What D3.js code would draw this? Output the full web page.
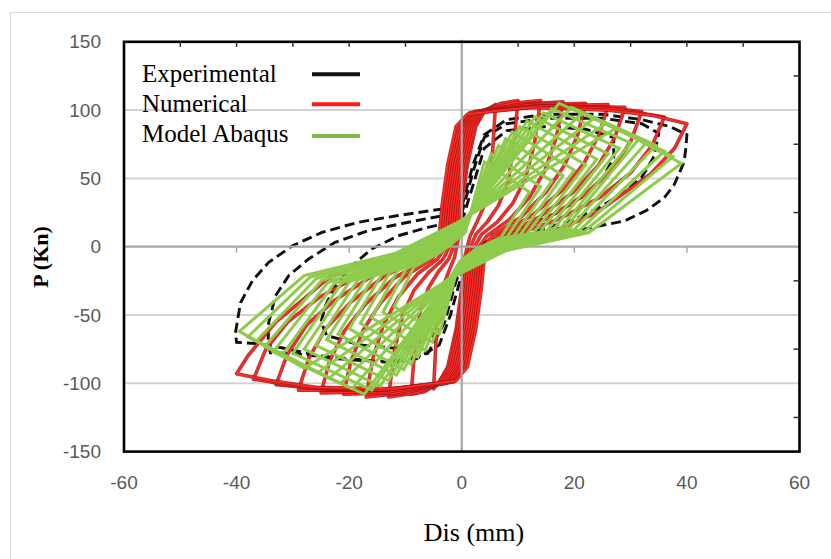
<!DOCTYPE html>
<html>
<head>
<meta charset="utf-8">
<script src="https://cdn.jsdelivr.net/npm/d3@7"></script>
<style>
  body { margin: 0; background: #fff; }
  svg { display: block; }
</style>
</head>
<body>
<div id="chart"></div>
<script>
// axis ticks
const xTicks = [-60, -40, -20, 0, 20, 40, 60];
const yTicks = [-150, -100, -50, 0, 50, 100, 150];
const gridValues = [100, 50, -50, -100];
const topMinorTicks = [-50, -40, -30, -20, -10, 10, 20, 30, 40, 50];
const rightMinorTicks = [125, 75, 25, -25, -75, -125];
const zeroLineTicks = [-40, -20, 20, 40];

const legendLabels = ['Experimental', 'Numerical', 'Model Abaqus'];

// Experimental (dashed black) loops
const experimental = [
  [[0, 29], [2, 60], [4, 82], [8, 93], [15, 97], [25, 97], [32, 93], [37, 88], [40, 82], [39.8, 72], [39.5, 62],
    [37.7, 45], [36, 36], [32.8, 26.5], [29, 19], [23, 14], [15, 8], [8, 2], [3, -5], [0, -20], [-2, -50],
    [-4, -72], [-8, -82], [-15, -84], [-25, -80], [-32, -74], [-36, -71], [-40, -70], [-40.2, -63], [-39.3, -41],
    [-37.2, -25], [-34.3, -11.5], [-30.1, 0.7], [-24.8, 10.5], [-18.4, 17.9], [-11.3, 22.8], [-5.4, 26.5],
    [-1.2, 28.9], [0, 29]],
  [[0, 24], [2, 55], [4, 80], [8, 90], [15, 94], [25, 94], [32, 90], [35, 83], [34.5, 73], [34, 65], [32, 51],
    [29, 40], [25, 30], [20, 20], [12, 10], [5, 2], [1, -8], [-1, -25], [-3, -55], [-6, -78], [-12, -85],
    [-22, -82], [-30, -78], [-34, -77.7], [-34.4, -70], [-34.3, -55.6], [-33.1, -36], [-30.7, -21], [-27.2, -9],
    [-22.5, 3.2], [-16.6, 11.8], [-9.5, 17.9], [-1.8, 24], [0, 24]],
  [[0, 18], [2, 45], [4, 72], [8, 85], [15, 88], [22, 86], [27, 80], [27, 65], [25, 50], [22, 38], [17, 25],
    [10, 12], [4, 3], [0, -10], [-2, -35], [-5, -65], [-10, -75], [-18, -72], [-24, -65], [-25, -55],
    [-24.2, -43], [-22.5, -28.7], [-19.5, -14], [-16, -1.7], [-11.3, 8], [-6, 14.2], [-1.8, 17.9], [0, 18]],
];

// Numerical (red) cycles
const numerical = [
  [[-0.5, 8], [0, 30], [1, 60], [2.5, 88], [4, 99], [6, 104], [5.5, 71], [4.9, 46], [3.9, 29], [2.7, 18], [1.5, 8],
    [0.5, -8], [0, -30], [-1, -60], [-2.5, -88], [-4, -99], [-5, -104], [-4.6, -71], [-4.1, -46], [-3.3, -29],
    [-2.3, -18], [-1.3, -8], [-0.5, 8]],
  [[-0.8, 8], [-0.3, 30], [0.7, 60], [2.2, 88], [4.2, 100], [7, 105], [10, 107], [9.2, 73], [8.2, 47], [6.5, 30],
    [4.5, 18], [2.5, 9], [0.8, -8], [0.3, -30], [-0.7, -60], [-2.2, -88], [-4.2, -100], [-6.5, -106], [-9, -108],
    [-8.3, -73], [-7.4, -48], [-5.9, -30], [-4.1, -18], [-2.3, -9], [-0.8, 8]],
  [[-1.2, 8], [-0.7, 30], [0.3, 60], [1.8, 88], [3.8, 100], [9, 105], [14, 107], [12.9, 75], [11.3, 50], [9.1, 32],
    [6.3, 18], [3.5, 9], [1.2, -8], [0.7, -30], [-0.3, -60], [-1.8, -88], [-3.8, -100], [-8, -107], [-13, -110],
    [-12, -77], [-10.5, -50], [-8.5, -32], [-5.9, -19], [-3.3, -9], [-1.2, 8]],
  [[-1.6, 8], [-1.1, 30], [-0.1, 60], [1.4, 88], [3.4, 99], [10, 104], [18, 106], [16.8, 80], [14.8, 56],
    [12, 36], [8.5, 20], [4.5, 8], [1.6, -8], [1.1, -30], [0.1, -60], [-1.4, -88], [-3.4, -100], [-10, -107],
    [-17, -110], [-15.8, -82], [-13.9, -57], [-11.3, -37], [-7.9, -20], [-4.3, -9], [-1.6, 8]],
  [[-2, 8], [-1.5, 30], [-0.5, 60], [1, 88], [3, 99], [12, 104], [22, 105], [20.6, 82], [18.3, 60], [15, 40],
    [10.6, 22], [5.5, 8], [2, -8], [1.5, -30], [0.5, -60], [-1, -88], [-3, -100], [-12, -107], [-21, -108],
    [-19.7, -84], [-17.5, -61], [-14.4, -41], [-10.2, -22], [-5.3, -9], [-2, 8]],
  [[-2.4, 8], [-1.9, 30], [-0.9, 60], [0.6, 88], [2.6, 99], [13, 103], [26, 104], [24.4, 82], [21.7, 61],
    [17.8, 41], [12.5, 23], [6.5, 8], [2.4, -8], [1.9, -30], [0.9, -60], [-0.6, -88], [-2.6, -100], [-13, -106],
    [-25, -107], [-23.5, -84], [-20.9, -62], [-17.1, -42], [-12, -23], [-6.3, -9], [-2.4, 8]],
  [[-2.8, 8], [-2.3, 30], [-1.3, 60], [0.2, 88], [2.2, 99], [14, 103], [29, 102], [27.2, 80], [24.2, 59],
    [19.8, 40], [13.9, 22], [7.3, 8], [2.8, -8], [2.3, -30], [1.3, -60], [-0.2, -88], [-2.2, -99], [-14, -105],
    [-29, -105], [-27.2, -82], [-24.2, -60], [-19.8, -41], [-13.9, -22], [-7.3, -8], [-2.8, 8]],
  [[-3.2, 8], [-2.7, 30], [-1.7, 60], [-0.2, 88], [1.8, 98], [15, 103], [25, 102], [32, 99], [30, 77],
    [26.6, 56], [21.8, 38], [15.3, 21], [8, 8], [3.2, -8], [2.7, -30], [1.7, -60], [0.2, -88], [-1.8, -99],
    [-15, -105], [-25, -104], [-33, -101], [-31, -79], [-27.5, -57], [-22.5, -39], [-15.8, -21], [-8.3, -8],
    [-3.2, 8]],
  [[-3.6, 8], [-3.1, 30], [-2.1, 60], [-0.6, 88], [1.4, 98], [14, 103], [27, 101], [36, 95], [33.8, 74],
    [30, 54], [24.5, 36], [17.2, 20], [9, 8], [3.6, -8], [3.1, -30], [2.1, -60], [0.6, -88], [-1.4, -99],
    [-14, -105], [-28, -103], [-37, -97], [-34.8, -75], [-30.9, -55], [-25.3, -37], [-17.7, -20], [-9.3, -8],
    [-3.6, 8]],
  [[-4, 8], [-3.5, 30], [-2.5, 60], [-1, 88], [1, 97], [12, 102], [26, 100], [34, 96], [40, 90], [37.8, 72],
    [33.5, 53], [28, 37], [24, 25], [18, 14], [10, 6], [4, -8], [3.5, -30], [2.5, -60], [1, -88], [-1, -98],
    [-12, -104], [-26, -103], [-34, -98], [-40, -93], [-38, -80], [-33, -55], [-28, -38], [-24, -24],
    [-18, -13], [-12, -6], [-4, 8]],
];

// Model Abaqus (green) cycles
const abaqus = [
  [[0.6, 10], [4, 62], [12, 40], [7, 6.8], [2.4, -2], [-0.4, -11], [-4, -64], [-12, -44], [-8.5, -15], [-3.6, -3.5], [0.6, 10]],
  [[0.5, 10.5], [5.2, 68], [14, 44], [8.1, 7.5], [2.8, -2], [-0.5, -11.8], [-5.2, -70], [-14, -48], [-9.9, -16.3], [-4.2, -3.8], [0.5, 10.5]],
  [[0.4, 11], [6.5, 74], [16, 48], [9.3, 8.2], [3.2, -2], [-0.6, -12.6], [-6.5, -76], [-16, -52], [-11.4, -17.7], [-4.8, -4.2], [0.4, 11]],
  [[0.3, 11.5], [7.8, 79], [18, 52], [10.4, 8.8], [3.6, -2], [-0.7, -13.4], [-7.8, -81], [-18, -56], [-12.8, -19], [-5.4, -4.5], [0.3, 11.5]],
  [[0.2, 12], [9, 84], [20, 56], [11.6, 9.5], [4, -2], [-0.8, -14.2], [-9, -86], [-20, -60], [-14.2, -20.4], [-6, -4.8], [0.2, 12]],
  [[0.1, 12.5], [10.3, 88], [22, 60], [12.8, 10.2], [4.4, -2], [-0.9, -15], [-10.3, -90], [-22, -64], [-15.6, -21.8], [-6.6, -5.1], [0.1, 12.5]],
  [[0, 13], [11.6, 92], [24, 64], [13.9, 10.9], [4.8, -2], [-1, -15.8], [-11.6, -94], [-24, -68], [-17, -23.1], [-7.2, -5.4], [0, 13]],
  [[-0.1, 13.5], [13, 95], [26, 68], [15.1, 11.6], [5.2, -2], [-1.1, -16.6], [-13, -98], [-26, -72], [-18.5, -24.5], [-7.8, -5.8], [-0.1, 13.5]],
  [[-0.2, 14], [14.5, 98], [28, 72], [16.2, 12.2], [5.6, -2], [-1.2, -17.4], [-14.5, -102], [-28, -75], [-19.9, -25.5], [-8.4, -6], [-0.2, 14]],
  [[-0.3, 14.5], [16, 101], [30, 76], [17.4, 12.9], [6, -2], [-1.3, -18.2], [-16, -105], [-30, -78], [-21.3, -26.5], [-9, -6.2], [-0.3, 14.5]],
  [[-0.4, 15], [17.3, 105], [31.5, 79], [18.3, 13.4], [6.3, -2], [-1.4, -19], [-17.3, -108], [-32, -80], [-22.7, -27.2], [-9.6, -6.4], [-0.4, 15]],
  [[-0.5, 15.5], [19.5, 102], [33, 77], [19.1, 13.1], [6.6, -2], [-1.5, -19.8], [-19.5, -104], [-33.5, -77], [-23.8, -26.2], [-10, -6.2], [-0.5, 15.5]],
  [[-0.6, 16], [21.5, 98], [34.5, 74], [20, 12.6], [6.9, -2], [-1.6, -20.6], [-21.5, -100], [-35, -73], [-24.9, -24.8], [-10.5, -5.8], [-0.6, 16]],
  [[-0.7, 16.5], [23.5, 94], [36, 70], [20.9, 11.9], [7.2, -2.5], [-1.7, -21.4], [-23.5, -96], [-36.5, -69], [-25.9, -23.5], [-11, -5.5], [-0.7, 16.5]],
  [[-0.8, 17], [25.5, 90], [37.5, 66], [21.8, 11.2], [7.5, -2.5], [-1.8, -22.2], [-25.5, -92], [-38, -66], [-27, -22.4], [-11.4, -5.3], [-0.8, 17]],
  [[-0.9, 17.5], [27.5, 87], [39, 61], [22.6, 10.4], [7.8, -3], [-1.9, -23], [-28, -89], [-39.5, -62], [-28, -21.1], [-11.9, -5], [-0.9, 17.5]],
];

const width = 831;
const height = 559;
const plot = { left: 124, right: 799.5, top: 41.8, bottom: 451.6 };

const x = d3.scaleLinear().domain([-60, 60]).range([plot.left, plot.right]);
const y = d3.scaleLinear().domain([-150, 150]).range([plot.bottom, plot.top]);

const svg = d3.select('#chart')
  .append('svg')
  .attr('width', width)
  .attr('height', height);

// light outer frame of the figure
svg.append('rect')
  .attr('x', 10.5).attr('y', 12.5)
  .attr('width', 840).attr('height', 560)
  .attr('fill', 'none')
  .attr('stroke', '#d9d9d9');

// gridlines
svg.append('g')
  .selectAll('line')
  .data(gridValues)
  .join('line')
  .attr('x1', plot.left).attr('x2', plot.right)
  .attr('y1', (d) => y(d)).attr('y2', (d) => y(d))
  .attr('stroke', '#d3d3d3')
  .attr('stroke-width', 2);

const line = d3.line()
  .x((d) => x(d[0]))
  .y((d) => y(d[1]));

// experimental
svg.append('g')
  .selectAll('path')
  .data(experimental)
  .join('path')
  .attr('d', line)
  .attr('fill', 'none')
  .attr('stroke', '#111')
  .attr('stroke-width', 2.9)
  .attr('stroke-dasharray', '10,5');

// numerical: dark edge under a bright red core, like the scanned curves
const red = svg.append('g')
  .selectAll('g')
  .data(numerical)
  .join('g');
red.append('path')
  .attr('d', line)
  .attr('fill', 'none')
  .attr('stroke', '#a31515')
  .attr('stroke-width', 3.6)
  .attr('stroke-linejoin', 'round')
  .attr('stroke-opacity', 0.85);
red.append('path')
  .attr('d', line)
  .attr('fill', 'none')
  .attr('stroke', '#ff2a24')
  .attr('stroke-width', 1.9)
  .attr('stroke-linejoin', 'round');

// zero lines
svg.append('line')
  .attr('x1', plot.left).attr('x2', plot.right)
  .attr('y1', y(0)).attr('y2', y(0))
  .attr('stroke', '#a6a6a6').attr('stroke-width', 2.2);
svg.append('line')
  .attr('x1', x(0)).attr('x2', x(0))
  .attr('y1', plot.top - 2).attr('y2', plot.bottom)
  .attr('stroke', '#a6a6a6').attr('stroke-width', 2.2);
svg.append('g')
  .selectAll('line')
  .data(zeroLineTicks)
  .join('line')
  .attr('x1', (d) => x(d)).attr('x2', (d) => x(d))
  .attr('y1', y(0)).attr('y2', y(0) + 6)
  .attr('stroke', '#a6a6a6').attr('stroke-width', 1.5);

// model abaqus
svg.append('g')
  .selectAll('path')
  .data(abaqus)
  .join('path')
  .attr('d', line)
  .attr('fill', 'none')
  .attr('stroke', '#8ecb4c')
  .attr('stroke-width', 3)
  .attr('stroke-linejoin', 'miter');

// frame
svg.append('rect')
  .attr('x', plot.left).attr('y', plot.top)
  .attr('width', plot.right - plot.left).attr('height', plot.bottom - plot.top)
  .attr('fill', 'none')
  .attr('stroke', '#000')
  .attr('stroke-width', 2.6);

svg.append('g')
  .selectAll('line')
  .data(topMinorTicks)
  .join('line')
  .attr('x1', (d) => x(d)).attr('x2', (d) => x(d))
  .attr('y1', plot.top).attr('y2', plot.top + 5)
  .attr('stroke', '#333').attr('stroke-width', 1.5);

svg.append('g')
  .selectAll('line')
  .data(rightMinorTicks)
  .join('line')
  .attr('x1', plot.right - 6).attr('x2', plot.right)
  .attr('y1', (d) => y(d)).attr('y2', (d) => y(d))
  .attr('stroke', '#333').attr('stroke-width', 1.5);

// tick labels
const tickFont = '"Liberation Sans", Arial, sans-serif';
svg.append('g')
  .selectAll('text')
  .data(yTicks)
  .join('text')
  .attr('x', 101)
  .attr('y', (d) => y(d))
  .attr('dy', '0.35em')
  .attr('text-anchor', 'end')
  .attr('font-family', tickFont)
  .attr('font-size', 19)
  .attr('fill', '#595959')
  .text((d) => d);

svg.append('g')
  .selectAll('text')
  .data(xTicks)
  .join('text')
  .attr('x', (d) => x(d))
  .attr('y', 482)
  .attr('dy', '0.35em')
  .attr('text-anchor', 'middle')
  .attr('font-family', tickFont)
  .attr('font-size', 19)
  .attr('fill', '#595959')
  .text((d) => d);

// axis titles
const serif = '"Liberation Serif", "Times New Roman", serif';
svg.append('text')
  .attr('transform', 'translate(40,257) rotate(-90)')
  .attr('text-anchor', 'middle')
  .attr('dy', '0.35em')
  .attr('font-family', serif)
  .attr('font-weight', 'bold')
  .attr('font-size', 22)
  .attr('fill', '#000')
  .text('P (Kn)');

svg.append('text')
  .attr('x', 474)
  .attr('y', 541)
  .attr('text-anchor', 'middle')
  .attr('font-family', serif)
  .attr('font-size', 26)
  .attr('fill', '#000')
  .text('Dis (mm)');

// legend
const legendColors = ['#111', '#ff1a1a', '#7dbb44'];
const legendBase = [81.5, 111.5, 141.5];
const legendLineY = [74.3, 104.3, 136];
const legend = svg.append('g');
legend.selectAll('text')
  .data(legendLabels)
  .join('text')
  .attr('x', 142)
  .attr('y', (d, i) => legendBase[i])
  .attr('font-family', serif)
  .attr('font-size', 25)
  .attr('fill', '#000')
  .text((d) => d);
legend.selectAll('line')
  .data(legendColors)
  .join('line')
  .attr('x1', 312).attr('x2', 360)
  .attr('y1', (d, i) => legendLineY[i]).attr('y2', (d, i) => legendLineY[i])
  .attr('stroke', (d) => d)
  .attr('stroke-width', 4);
</script>
</body>
</html>
